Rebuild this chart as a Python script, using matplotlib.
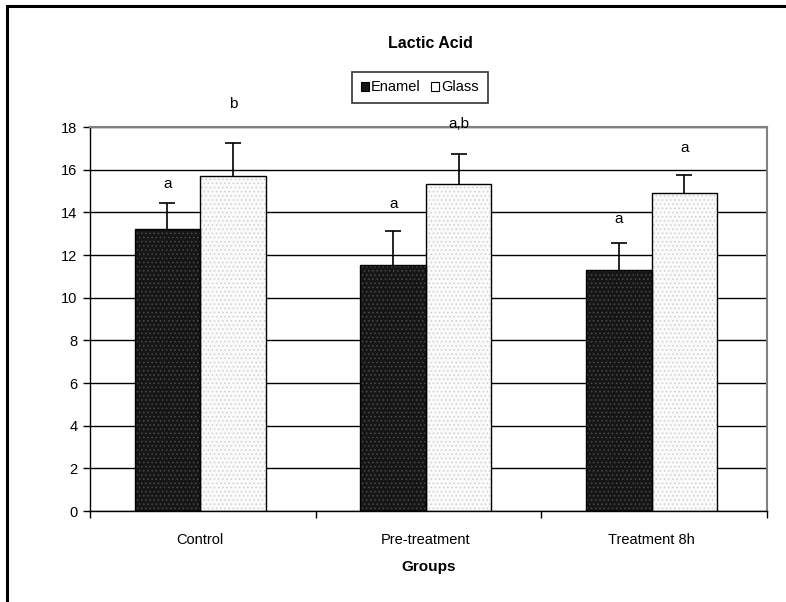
import numpy as np
import matplotlib
matplotlib.use('Agg')
from matplotlib import pyplot as plt
from matplotlib.patches import Rectangle, Patch

plt.rcParams['font.family'] = ['Liberation Sans', 'DejaVu Sans']
plt.rcParams['hatch.linewidth'] = 0.6

groups = ['Control', 'Pre-treatment', 'Treatment 8h']
enamel = [13.2, 11.55, 11.3]
glass = [15.7, 15.35, 14.9]
enamel_err = [1.25, 1.6, 1.25]
glass_err = [1.55, 1.4, 0.85]
enamel_letters = ['a', 'a', 'a']
glass_letters = ['b', 'a,b', 'a']
enamel_letter_y = [15.35, 14.4, 13.7]
glass_letter_y = [19.1, 18.15, 17.0]

fig = plt.figure(figsize=(7.86, 6.02), dpi=100)
ax = fig.add_axes([0.1145, 0.151, 0.8615, 0.638])

# рамка вокруг всей картинки
fig.patches.append(Rectangle((0.009, -0.1), 1.2, 1.09, transform=fig.transFigure,
                             fill=False, edgecolor='black', linewidth=2.2))

x = np.arange(len(groups))
w = 0.29
shift = -0.012

ax.set_axisbelow(True)
ax.yaxis.grid(True, color='black', linewidth=1)

# заливка с точками
ax.bar(x + shift - w / 2, enamel, w, color='#161616', hatch='....', edgecolor='#4a4a4a', linewidth=0, zorder=2)
ax.bar(x + shift + w / 2, glass, w, color='#fafafa', hatch='....', edgecolor='#cfcfcf', linewidth=0, zorder=2)
# контуры
ax.bar(x + shift - w / 2, enamel, w, fill=False, edgecolor='black', linewidth=1, zorder=3)
ax.bar(x + shift + w / 2, glass, w, fill=False, edgecolor='black', linewidth=1, zorder=3)

# только верхние усы
for xs, vals, errs in [(x + shift - w / 2, enamel, enamel_err), (x + shift + w / 2, glass, glass_err)]:
    eb = ax.errorbar(xs, vals, yerr=[np.zeros(3), errs], fmt='none', ecolor='black',
                     elinewidth=1.2, capsize=6, capthick=1.2, zorder=4)
    eb[1][0].set_visible(False)

for i in range(len(groups)):
    ax.text(x[i] + shift - w / 2, enamel_letter_y[i], enamel_letters[i], ha='center', va='center',
            fontsize=11, clip_on=False)
    ax.text(x[i] + shift + w / 2, glass_letter_y[i], glass_letters[i], ha='center', va='center',
            fontsize=11, clip_on=False)

ax.set_xlim(-0.5, 2.5)
ax.set_ylim(0, 18)
ax.set_yticks(range(0, 19, 2))
ax.set_xticks(x + shift)
ax.set_xticklabels(groups)
ax.set_xticks([-0.5, 0.5, 1.5, 2.5], minor=True)
ax.tick_params(axis='x', which='major', length=0, pad=16, labelsize=10.5)
ax.tick_params(axis='x', which='minor', length=5, direction='out', width=1)
ax.tick_params(axis='y', length=5, direction='out', width=1, labelsize=10.5, pad=4)

for s in ['left', 'bottom']:
    ax.spines[s].set_color('black')
    ax.spines[s].set_linewidth(1)
for s in ['top', 'right']:
    ax.spines[s].set_color('#808080')
    ax.spines[s].set_linewidth(1.5)

ax.set_xlabel('Groups', fontweight='bold', fontsize=11, labelpad=9)

fig.text(0.547, 0.928, 'Lactic Acid', ha='center', va='center', fontweight='bold', fontsize=11.5)

handles = [Patch(facecolor='#161616', edgecolor='black', linewidth=0.8),
           Patch(facecolor='white', edgecolor='black', linewidth=0.8)]
leg = ax.legend(handles, ['Enamel', 'Glass'], loc='center', bbox_to_anchor=(0.487, 1.103),
                ncol=2, fontsize=10.5, frameon=True, fancybox=False, edgecolor='black',
                handlelength=0.55, handleheight=0.55, handletextpad=0.15, columnspacing=0.7,
                borderpad=0.6, borderaxespad=0)
leg.get_frame().set_linewidth(1.2)

fig.savefig('out.png', dpi=100)
